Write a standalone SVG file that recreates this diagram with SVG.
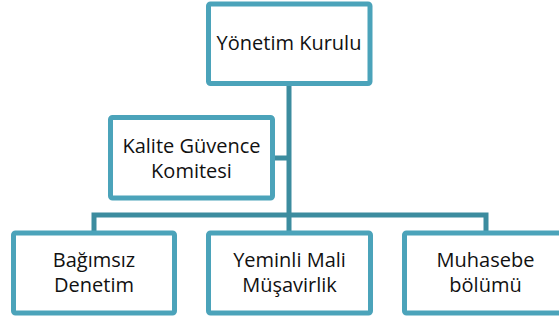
<svg xmlns="http://www.w3.org/2000/svg" width="559" height="320" viewBox="0 0 559 320">
<style>
.box{fill:#fff;stroke:#4BA3BA;stroke-width:5}
.con{fill:none;stroke:#3C8C9F;stroke-width:5}
.t{font-family:"Open Sans","Noto Sans",sans-serif;font-size:20px;fill:#111;text-anchor:middle}
</style>
<rect width="559" height="320" fill="#fff"/>
<g id="connectors">
<path class="con" d="M289 83 V215 M94 233 V215 H486 V233 M289 215 V233 M272 158 H289"/>
</g>
<g id="yonetim">
<rect class="box" x="208.5" y="4" width="161.5" height="79.5" rx="2"/>
<text class="t" x="289" y="50">Yönetim Kurulu</text>
</g>
<g id="kalite">
<rect class="box" x="110.5" y="117.5" width="162" height="80.5" rx="2"/>
<text class="t" x="191.5" y="153">Kalite Güvence</text>
<text class="t" x="191.5" y="177.5">Komitesi</text>
</g>
<g id="bagimsiz">
<rect class="box" x="13.5" y="233" width="161" height="80" rx="2"/>
<text class="t" x="94" y="267">Bağımsız</text>
<text class="t" x="94" y="292">Denetim</text>
</g>
<g id="yeminli">
<rect class="box" x="208.5" y="233" width="162" height="80" rx="2"/>
<text class="t" x="289.5" y="267">Yeminli Mali</text>
<text class="t" x="289.5" y="292">Müşavirlik</text>
</g>
<g id="muhasebe">
<rect class="box" x="404.5" y="233" width="162" height="80" rx="2"/>
<text class="t" x="485.5" y="267">Muhasebe</text>
<text class="t" x="485.5" y="292">bölümü</text>
</g>
</svg>
